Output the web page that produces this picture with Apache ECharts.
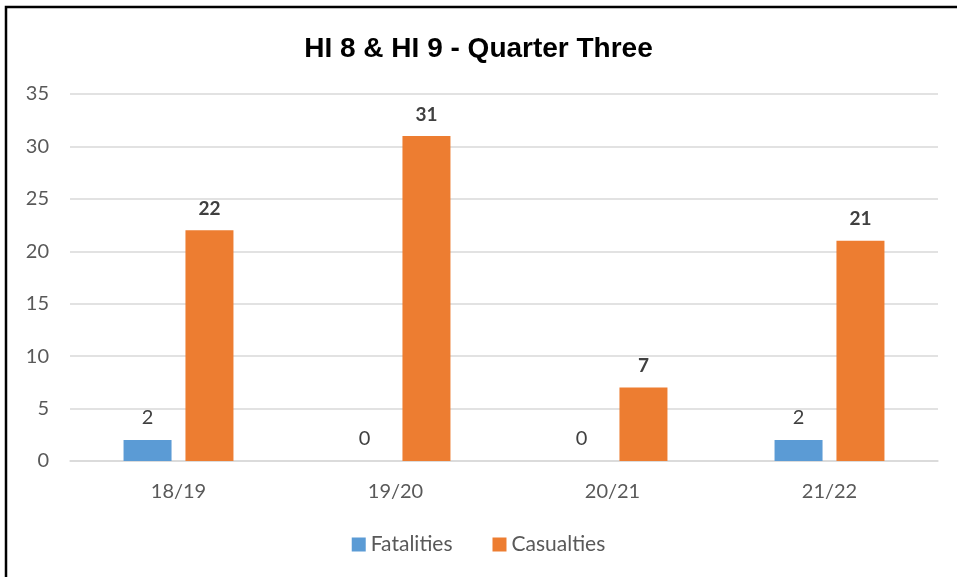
<!DOCTYPE html>
<html><head><meta charset="utf-8">
<script src="https://cdn.jsdelivr.net/npm/echarts@6/dist/echarts.min.js"></script>
<style>html,body{margin:0;padding:0;background:#fff}#c{width:957px;height:577px}</style>
</head><body><div id="c"></div>
<script>
const categories = ['18/19', '19/20', '20/21', '21/22'];
const fatalities = [2, 0, 0, 2];
const casualties = [22, 31, 7, 21];
const yTicks = [0, 5, 10, 15, 20, 25, 30, 35];

const chart = echarts.init(document.getElementById('c'));
const font = 'Lato, "Open Sans", sans-serif';
chart.setOption({
  animation: false,
  graphic: [{
    type: 'rect', shape: {x: 6, y: 7, width: 1200, height: 1200},
    style: {fill: 'none', stroke: '#000', lineWidth: 2.5}
  }],
  title: {
    text: 'HI 8 & HI 9 - Quarter Three', left: 'center', top: 30,
    textStyle: {fontFamily: '"Liberation Sans", Arial, sans-serif', fontWeight: 'bold', fontSize: 28, color: '#000'}
  },
  legend: {
    bottom: 17, left: 'center', itemWidth: 14, itemHeight: 14, itemGap: 40, icon: 'rect',
    textStyle: {fontFamily: font, fontSize: 21, color: '#595959'},
    data: ['Fatalities', 'Casualties']
  },
  grid: {left: 70, right: 19, top: 94, bottom: 116},
  xAxis: {
    type: 'category', data: categories,
    axisLine: {lineStyle: {color: '#d9d9d9', width: 1.5}},
    axisTick: {show: false},
    axisLabel: {fontFamily: font, fontSize: 20, color: '#595959', margin: 21}
  },
  yAxis: {
    type: 'value', min: yTicks[0], max: yTicks[yTicks.length - 1], interval: 5,
    axisLine: {show: false}, axisTick: {show: false},
    splitLine: {lineStyle: {color: '#d9d9d9', width: 1.5}},
    axisLabel: {fontFamily: font, fontSize: 20, color: '#595959', margin: 21}
  },
  series: [{
    name: 'Fatalities', type: 'bar', data: fatalities, barWidth: 48, barGap: '29%',
    itemStyle: {color: '#5b9bd5'},
    label: {show: true, position: 'top', distance: 12, fontFamily: font, fontSize: 20, color: '#404040'}
  }, {
    name: 'Casualties', type: 'bar', data: casualties, barWidth: 48,
    itemStyle: {color: '#ed7d31'},
    label: {show: true, position: 'top', distance: 12, fontFamily: font, fontSize: 19, fontWeight: 'bold', color: '#404040'}
  }]
});
</script></body></html>
